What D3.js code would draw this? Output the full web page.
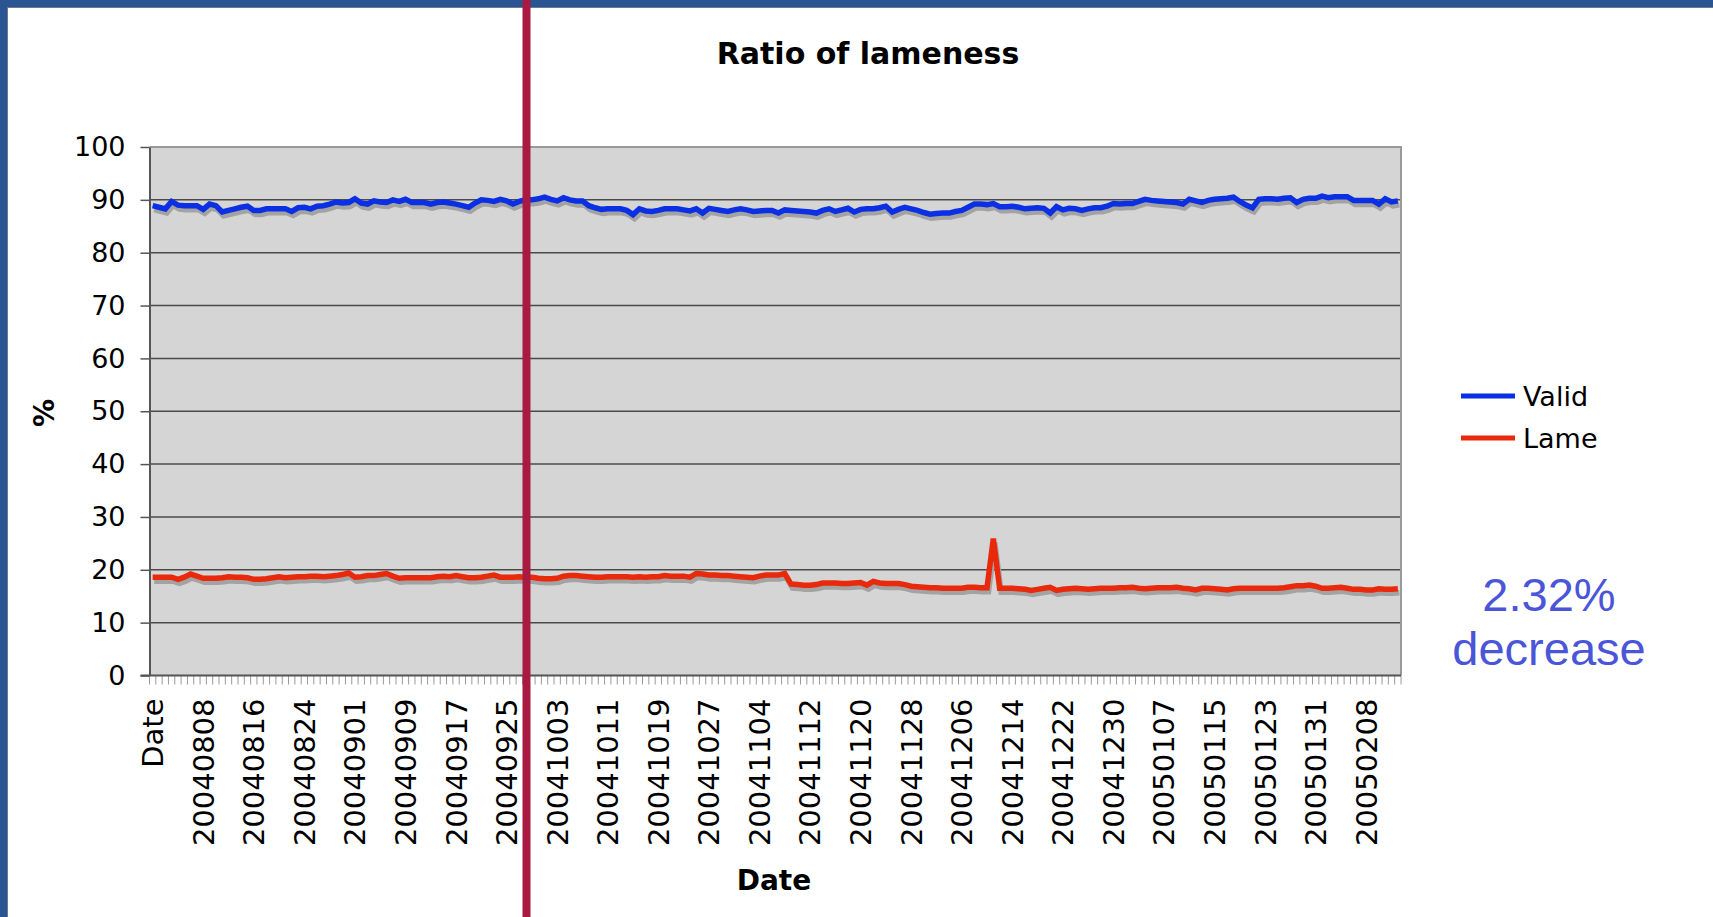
<!DOCTYPE html>
<html>

<head>
  <title>Ratio of lameness</title>
  <script src="https://d3js.org/d3.v7.min.js"></script>
  <style type="text/css">
    body {
      margin: 0;
      background: #fff;
    }

    svg {
      font-family: "DejaVu Sans", Verdana, sans-serif;
    }
  </style>
</head>

<body>
  <div id="chart"></div>

  <script type="text/javascript">
    // first category is the header cell "Date", then one per day from 2004-08-01
    var firstDay = new Date(2004, 7, 1);
    var dayCount = 197;
    var fmt = d3.timeFormat("%Y%m%d");
    var categories = ["Date"].concat(
      d3.timeDay.range(firstDay, d3.timeDay.offset(firstDay, dayCount)).map(fmt)
    );

    var validValues = [
      88.9, 88.6, 88.3, 89.7, 89.0, 88.9, 88.9, 88.9, 88.2, 89.2,
      88.9, 87.7, 88.0, 88.3, 88.6, 88.8, 88.0, 88.0, 88.3, 88.3,
      88.3, 88.3, 87.8, 88.5, 88.6, 88.3, 88.8, 88.9, 89.2, 89.6,
      89.4, 89.5, 90.2, 89.4, 89.2, 89.8, 89.6, 89.5, 90.0, 89.7,
      90.1, 89.5, 89.5, 89.5, 89.2, 89.5, 89.6, 89.4, 89.2, 88.9,
      88.6, 89.4, 90.0, 89.9, 89.7, 90.1, 89.8, 89.2, 89.7, 90.0,
      90.0, 90.2, 90.5, 90.1, 89.8, 90.4, 90.0, 89.8, 89.8, 88.9,
      88.5, 88.2, 88.3, 88.3, 88.3, 88.0, 87.2, 88.3, 87.9, 87.8,
      88.0, 88.3, 88.3, 88.3, 88.1, 87.9, 88.3, 87.5, 88.4, 88.2,
      88.0, 87.8, 88.1, 88.3, 88.1, 87.8, 87.9, 88.0, 88.0, 87.5,
      88.1, 88.0, 87.9, 87.8, 87.7, 87.5, 88.0, 88.3, 87.8, 88.1,
      88.4, 87.7, 88.2, 88.3, 88.3, 88.5, 88.8, 87.7, 88.2, 88.6,
      88.3, 88.0, 87.6, 87.3, 87.4, 87.5, 87.5, 87.8, 88.0, 88.6,
      89.2, 89.2, 89.1, 89.3, 88.7, 88.7, 88.8, 88.6, 88.3, 88.4,
      88.5, 88.4, 87.5, 88.7, 88.1, 88.4, 88.3, 88.0, 88.3, 88.5,
      88.5, 88.8, 89.3, 89.2, 89.3, 89.3, 89.7, 90.1, 89.9, 89.8,
      89.7, 89.6, 89.5, 89.2, 90.1, 89.8, 89.5, 89.9, 90.1, 90.2,
      90.3, 90.5, 89.7, 89.0, 88.5, 90.1, 90.2, 90.2, 90.1, 90.3,
      90.4, 89.5, 90.1, 90.3, 90.3, 90.7, 90.4, 90.6, 90.6, 90.6,
      89.9, 89.9, 89.9, 89.9, 89.2, 90.2, 89.6, 89.8
    ];

    var lameValues = [
      18.6, 18.6, 18.6, 18.6, 18.2, 18.6, 19.2, 18.8, 18.4, 18.4,
      18.4, 18.5, 18.7, 18.6, 18.6, 18.5, 18.2, 18.2, 18.3, 18.5,
      18.7, 18.5, 18.6, 18.7, 18.7, 18.8, 18.8, 18.7, 18.8, 18.9,
      19.1, 19.4, 18.6, 18.7, 18.9, 18.9, 19.1, 19.3, 18.8, 18.4,
      18.5, 18.5, 18.5, 18.5, 18.5, 18.7, 18.8, 18.7, 18.9, 18.7,
      18.5, 18.5, 18.6, 18.8, 19.0, 18.6, 18.6, 18.6, 18.7, 18.6,
      18.6, 18.4, 18.3, 18.3, 18.4, 18.8, 18.9, 18.9, 18.8, 18.7,
      18.6, 18.6, 18.7, 18.7, 18.7, 18.7, 18.6, 18.7, 18.6, 18.7,
      18.7, 18.9, 18.8, 18.8, 18.8, 18.6, 19.3, 19.2, 19.0, 19.0,
      18.9, 18.9, 18.8, 18.7, 18.6, 18.5, 18.8, 19.0, 19.0, 19.0,
      19.3, 17.3, 17.2, 17.1, 17.1, 17.2, 17.5, 17.5, 17.5, 17.4,
      17.4, 17.5, 17.6, 17.1, 17.8, 17.5, 17.4, 17.4, 17.4, 17.2,
      16.9, 16.8, 16.7, 16.6, 16.6, 16.5, 16.5, 16.5, 16.5, 16.7,
      16.7, 16.6, 16.6, 25.9, 16.5, 16.5, 16.5, 16.4, 16.3, 16.1,
      16.3, 16.5, 16.7, 16.1, 16.3, 16.4, 16.5, 16.4, 16.3, 16.4,
      16.5, 16.5, 16.5, 16.6, 16.6, 16.7, 16.5, 16.4, 16.5, 16.6,
      16.6, 16.6, 16.7, 16.5, 16.4, 16.2, 16.5, 16.5, 16.4, 16.3,
      16.2, 16.4, 16.5, 16.5, 16.5, 16.5, 16.5, 16.5, 16.5, 16.6,
      16.8, 17.0, 17.0, 17.1, 16.9, 16.5, 16.5, 16.6, 16.7, 16.5,
      16.3, 16.3, 16.2, 16.2, 16.4, 16.3, 16.3, 16.4
    ];

    var yTicks = [0, 10, 20, 30, 40, 50, 60, 70, 80, 90, 100];
    var seriesNames = ["Valid", "Lame"];
    var seriesColors = ["#0b2fe2", "#e8290c"];
    var noteLines = ["2.32%", "decrease"];

    var width = 1713, height = 917;
    var plot = { left: 149.5, right: 1401, top: 147, bottom: 675.5 };

    var svg = d3.select("#chart").append("svg")
      .attr("width", width)
      .attr("height", height);

    // slide frame
    svg.append("rect").attr("x", 0).attr("y", 0).attr("width", width).attr("height", 7).attr("fill", "#2a5592");
    svg.append("rect").attr("x", 0).attr("y", 0).attr("width", 7).attr("height", height).attr("fill", "#2a5592");
    svg.append("line").attr("x1", 7).attr("x2", width).attr("y1", 7.5).attr("y2", 7.5).attr("stroke", "#6b7a90").attr("stroke-width", 1);
    svg.append("line").attr("x1", 7.5).attr("x2", 7.5).attr("y1", 7).attr("y2", height).attr("stroke", "#6b7a90").attr("stroke-width", 1);

    var x = d3.scaleBand()
      .domain(categories)
      .range([plot.left, plot.right]);

    var y = d3.scaleLinear()
      .domain([0, 100])
      .range([plot.bottom, plot.top]);

    function cx(d, i) { return x(categories[i]) + x.bandwidth() / 2; }

    // plot background
    svg.append("rect")
      .attr("x", plot.left)
      .attr("y", plot.top)
      .attr("width", plot.right - plot.left)
      .attr("height", plot.bottom - plot.top)
      .attr("fill", "#d5d5d5");

    // gridlines
    svg.append("g")
      .selectAll("line")
      .data(yTicks.filter(function (t) { return t > 0 && t < 100; }))
      .enter().append("line")
      .attr("x1", plot.left)
      .attr("x2", plot.right)
      .attr("y1", function (d) { return y(d); })
      .attr("y2", function (d) { return y(d); })
      .attr("stroke", "#4a4a4a")
      .attr("stroke-width", 1.5);

    // frame top / right
    svg.append("path")
      .attr("d", "M" + plot.left + "," + plot.top + "H" + plot.right + "V" + plot.bottom)
      .attr("fill", "none")
      .attr("stroke", "#999")
      .attr("stroke-width", 2);

    // y axis
    var yAxis = svg.append("g")
      .attr("transform", "translate(" + plot.left + ",0)")
      .call(d3.axisLeft(y).tickValues(yTicks).tickSize(9).tickPadding(15).tickSizeOuter(0));
    yAxis.select(".domain").attr("stroke", "#555").attr("stroke-width", 2);
    yAxis.selectAll(".tick line").attr("stroke", "#555").attr("stroke-width", 1.5);
    yAxis.selectAll("text")
      .attr("font-family", "DejaVu Sans")
      .attr("font-size", 27)
      .attr("fill", "#000");

    // x axis: minor ticks at every category boundary
    var xAxis = svg.append("g").attr("transform", "translate(0," + plot.bottom + ")");
    xAxis.selectAll("line.minor")
      .data(categories.concat(["end"]))
      .enter().append("line")
      .attr("class", "minor")
      .attr("x1", function (d, i) { return plot.left + i * x.step(); })
      .attr("x2", function (d, i) { return plot.left + i * x.step(); })
      .attr("y1", 0)
      .attr("y2", 9)
      .attr("stroke", "#999")
      .attr("stroke-width", 1);
    xAxis.append("line")
      .attr("x1", plot.left - 9).attr("x2", plot.right)
      .attr("y1", 0).attr("y2", 0)
      .attr("stroke", "#555").attr("stroke-width", 2);

    // every 8th category gets a label
    xAxis.selectAll("text")
      .data(categories.filter(function (d, i) { return i % 8 === 0; }))
      .enter().append("text")
      .attr("transform", function (d) {
        return "translate(" + (x(d) + x.bandwidth() / 2) + ",23) rotate(-90)";
      })
      .attr("text-anchor", "end")
      .attr("dy", "0.36em")
      .attr("font-size", 29)
      .attr("fill", "#000")
      .text(function (d) { return d; });

    // lines with a drop shadow
    var lineGen = d3.line()
      .x(cx)
      .y(function (d) { return y(d); });

    var allSeries = [validValues, lameValues];

    svg.append("g")
      .attr("transform", "translate(1.5,4)")
      .selectAll("path")
      .data(allSeries)
      .enter().append("path")
      .attr("d", lineGen)
      .attr("fill", "none")
      .attr("stroke", "#a3a3a3")
      .attr("stroke-width", 5.5)
      .attr("stroke-linejoin", "miter");

    svg.append("g")
      .selectAll("path")
      .data(allSeries)
      .enter().append("path")
      .attr("d", lineGen)
      .attr("fill", "none")
      .attr("stroke", function (d, i) { return seriesColors[i]; })
      .attr("stroke-width", 5.5)
      .attr("stroke-linejoin", "miter");

    // titles
    svg.append("text")
      .attr("x", 868)
      .attr("y", 64)
      .attr("text-anchor", "middle")
      .attr("font-weight", "bold")
      .attr("font-size", 30)
      .text("Ratio of lameness");

    svg.append("text")
      .attr("x", 774)
      .attr("y", 890)
      .attr("text-anchor", "middle")
      .attr("font-weight", "bold")
      .attr("font-size", 28)
      .text("Date");

    svg.append("text")
      .attr("transform", "translate(44,413) rotate(-90)")
      .attr("text-anchor", "middle")
      .attr("dy", "0.36em")
      .attr("font-weight", "bold")
      .attr("font-size", 28)
      .text("%");

    // legend
    var legend = svg.append("g")
      .selectAll("g")
      .data(seriesNames)
      .enter().append("g")
      .attr("transform", function (d, i) { return "translate(1461," + (396 + i * 42) + ")"; });
    legend.append("line")
      .attr("x1", 0).attr("x2", 54)
      .attr("stroke", function (d, i) { return seriesColors[i]; })
      .attr("stroke-width", 5);
    legend.append("text")
      .attr("x", 62)
      .attr("dy", "0.36em")
      .attr("font-size", 27)
      .text(function (d) { return d; });

    // annotation
    svg.append("g")
      .selectAll("text")
      .data(noteLines)
      .enter().append("text")
      .attr("x", 1549)
      .attr("y", function (d, i) { return 611 + i * 54; })
      .attr("text-anchor", "middle")
      .attr("font-family", "Liberation Sans, Arial, sans-serif")
      .attr("font-size", 47)
      .attr("fill", "#4a55d8")
      .text(function (d) { return d; });

    // red marker bar
    svg.append("rect")
      .attr("x", 522.5)
      .attr("y", 0)
      .attr("width", 8)
      .attr("height", height)
      .attr("fill", "#a91a43");
  </script>
</body>

</html>
